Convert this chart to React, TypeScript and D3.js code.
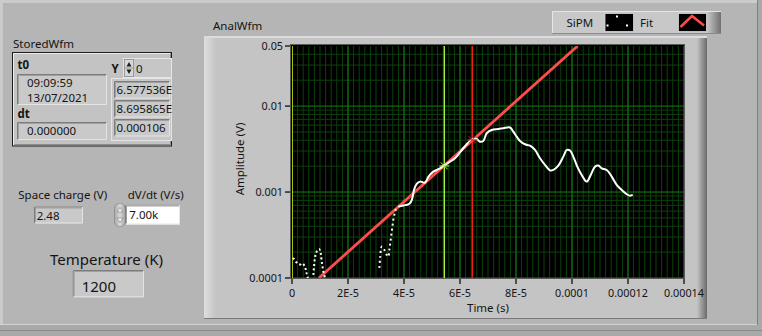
import React from 'react';
import * as d3 from 'd3';

const W = 762;
const H = 336;

// ---- axis ticks ----
const xTickValues = [0, 2e-5, 4e-5, 6e-5, 8e-5, 1e-4, 1.2e-4, 1.4e-4];
const xTickLabels = ['0', '2E-5', '4E-5', '6E-5', '8E-5', '0.0001', '0.00012', '0.00014'];
const yTickValues = [0.05, 0.01, 0.001, 0.0001];
const yTickLabels = ['0.05', '0.01', '0.001', '0.0001'];

// ---- SiPM data (time in µs, amplitude in V) ----
const sipmA_t = [0.36, 0.71, 1.68, 2.32, 3.04, 3.75, 4.46, 4.89, 5.18, 5.46, 5.71];
const sipmA_v = [1.713e-4, 1.654e-4, 1.511e-4, 1.459e-4, 1.439e-4, 1.479e-4, 1.383e-4, 1.266e-4, 1.147e-4, 1.058e-4, 0.977e-4];
const sipmB_t = [7.61, 7.86, 8.32, 9.04, 9.75, 10.25, 10.54, 10.89, 11.32, 11.79];
const sipmB_v = [1.087e-4, 1.347e-4, 1.807e-4, 2.095e-4, 2.163e-4, 1.943e-4, 1.624e-4, 1.358e-4, 1.138e-4, 0.99e-4];
const sipmC_t = [31.2, 31.5, 32.04, 32.86, 33.82, 34.39, 34.75, 35.25, 35.71, 36.18, 36.68, 37.14, 37.96];
const sipmC_v = [1.311e-4, 1.76e-4, 2.319e-4, 2.163e-4, 1.857e-4, 1.774e-4, 2.123e-4, 2.775e-4, 3.627e-4, 4.74e-4, 5.67e-4, 6.313e-4, 6.767e-4];
const sipmD_t = [37.96, 39.75, 41.54, 42.39, 43.11, 43.57, 44.54, 45.71, 47.5, 48.68, 50.46, 52.25, 54.04, 56.43, 58.21, 60.0, 61.18, 62.39, 63.57, 64.75, 65.96, 67.14, 68.32, 69.54, 71.32, 73.68, 75.46, 77.86, 79.04, 80.25, 81.43, 83.21, 85.0, 86.79, 88.57, 90.36, 92.14, 93.32, 95.11, 96.89, 98.11, 99.29, 100.46, 101.89, 103.46, 105.25, 106.68, 108.21, 109.39, 110.61, 112.39, 114.18, 115.96, 117.75, 119.54, 120.71, 121.68];
const sipmD_v = [6.767e-4, 6.987e-4, 7.176e-4, 7.572e-4, 8.844e-4, 1.058e-3, 1.243e-3, 1.322e-3, 1.287e-3, 1.499e-3, 1.727e-3, 1.842e-3, 2.012e-3, 2.258e-3, 2.472e-3, 2.888e-3, 3.232e-3, 3.596e-3, 3.929e-3, 4.145e-3, 4.145e-3, 3.855e-3, 3.929e-3, 4.83e-3, 5.275e-3, 5.419e-3, 5.521e-3, 5.64e-3, 5.04e-3, 4.408e-3, 3.929e-3, 3.596e-3, 3.464e-3, 3.088e-3, 2.472e-3, 2.066e-3, 1.784e-3, 1.807e-3, 2.028e-3, 2.581e-3, 3.088e-3, 3.047e-3, 2.581e-3, 1.975e-3, 1.581e-3, 1.322e-3, 1.581e-3, 1.975e-3, 2.039e-3, 1.891e-3, 1.807e-3, 1.511e-3, 1.21e-3, 1.058e-3, 9.43e-4, 9.08e-4, 9.25e-4];

// ---- exponential fit (end points, µs / V) ----
const fit_t = [9.6, 102.0];
const fit_v = [1e-4, 0.05];

// ---- cursors (µs / V) ----
const cursor_t = [0, 54.4, 64.4];
const cursor_v = [null, 2.012e-3, 4.05e-3];
const cursor_colors = ['#ffff00', '#a8ff40', '#ff1a1a'];

// ---- panel values ----
const t0Lines = ['09:09:59', '13/07/2021'];
const dtValue = '0.000000';
const yIndex = '0';
const yValues = ['6.577536E', '8.695865E', '0.000106'];
const spaceCharge = '2.48';
const dvdt = '7.00k';
const temperature = '1200';

const FONT = "'Noto Sans', 'Open Sans', sans-serif";
const TXT = '#141414';

const PL = 291, PR = 684, PT = 45, PB = 278;

const x = d3.scaleLinear().domain([0, 1.4e-4]).range([292, 684]);
const y = d3.scaleLog().domain([0.0001, 0.05]).range([278, 46]);

function zip(ts: number[], vs: number[]): [number, number][] {
  return ts.map((t, i) => [t * 1e-6, vs[i]]);
}

const line = d3
  .line<[number, number]>()
  .x((d) => x(d[0]))
  .y((d) => y(d[1]))
  .curve(d3.curveCatmullRom.alpha(0.5));

const straight = d3
  .line<[number, number]>()
  .x((d) => x(d[0]))
  .y((d) => y(d[1]));

function InsetBox({ x0, y0, w, h, fill = '#c9c9c9' }: any) {
  return (
    <g>
      <rect x={x0} y={y0} width={w} height={h} fill={fill} />
      <path d={`M${x0 + 0.5},${y0 + h} V${y0 + 0.5} H${x0 + w}`} stroke="#7c7c7c" strokeWidth={1} fill="none" />
      <path d={`M${x0 + 1.5},${y0 + h - 1} V${y0 + 1.5} H${x0 + w - 1}`} stroke="#a0a0a0" strokeWidth={1} fill="none" />
      <path d={`M${x0 + 0.5},${y0 + h - 0.5} H${x0 + w - 0.5} V${y0 + 0.5}`} stroke="#e4e4e4" strokeWidth={1} fill="none" />
    </g>
  );
}

export default function App() {
  const minorX: number[] = d3.range(0, 71).map((i) => i * 2e-6);
  const majorX = xTickValues;
  const minorY: number[] = [];
  [1e-4, 1e-3, 1e-2].forEach((dec) => {
    for (let k = 2; k <= 9; k++) {
      const v = k * dec;
      if (v < 0.05) minorY.push(v);
    }
  });
  const majorY = [1e-4, 1e-3, 1e-2];

  const sA = zip(sipmA_t, sipmA_v);
  const sB = zip(sipmB_t, sipmB_v);
  const sC = zip(sipmC_t, sipmC_v);
  const sD = zip(sipmD_t, sipmD_v);
  const fit = zip(fit_t, fit_v);

  return (
    <svg
      width={W}
      height={H}
      viewBox={`0 0 ${W} ${H}`}
      style={{ position: 'absolute', left: 0, top: 0, fontFamily: FONT }}
    >
      <defs>
        <clipPath id="plotclip">
          <rect x={PL + 1} y={PT + 1} width={PR - PL - 1} height={PB - PT - 1} />
        </clipPath>
        <linearGradient id="rightShade" x1="0" x2="1" y1="0" y2="0">
          <stop offset="0" stopColor="#c4c4c4" />
          <stop offset="1" stopColor="#6a6a6a" />
        </linearGradient>
        <linearGradient id="leftShade" x1="0" x2="1" y1="0" y2="0">
          <stop offset="0" stopColor="#dedede" />
          <stop offset="1" stopColor="#c4c4c4" />
        </linearGradient>
        <linearGradient id="legRight" x1="0" x2="1" y1="0" y2="0">
          <stop offset="0" stopColor="#c8c8c8" />
          <stop offset="1" stopColor="#707070" />
        </linearGradient>
        <linearGradient id="spinGrad" x1="0" x2="1" y1="0" y2="0">
          <stop offset="0" stopColor="#a8a8a8" />
          <stop offset="0.5" stopColor="#dadada" />
          <stop offset="1" stopColor="#a0a0a0" />
        </linearGradient>
      </defs>

      {/* panel background */}
      <rect x={0} y={0} width={W} height={H} fill="#b5b5b5" />
      <rect x={0} y={0} width={W} height={3} fill="#cbcbcb" />
      <rect x={0} y={0} width={3} height={H} fill="#cbcbcb" />
      <rect x={757} y={0} width={5} height={H} fill="#a9a9a9" />
      <line x1={757.5} y1={0} x2={757.5} y2={325} stroke="#808080" />
      <rect x={0} y={325} width={W} height={11} fill="#a9a9a9" />
      <line x1={0} y1={324.5} x2={757} y2={324.5} stroke="#d2d2d2" />
      <line x1={0} y1={330.5} x2={W} y2={330.5} stroke="#8a8a8a" />

      {/* ---------- StoredWfm cluster ---------- */}
      <text x={13} y={48} fontSize={11.5} fill={TXT}>StoredWfm</text>
      <rect x={12.5} y={52.5} width={159} height={93.5} fill="#c3c3c3" stroke="#1e1e1e" strokeWidth={1} />
      <path d="M13.5,145 V53.5 H170.5" stroke="#ececec" fill="none" />
      <path d="M14.5,144.5 H170.5 V53.5" stroke="#8c8c8c" fill="none" />
      <text x={17.5} y={69} fontSize={11.5} fontWeight="bold" fill={TXT}>t0</text>
      <InsetBox x0={17} y0={74} w={90} h={31} />
      <text x={27} y={87} fontSize={11.5} fill={TXT}>{t0Lines[0]}</text>
      <text x={27} y={101.5} fontSize={11.5} fill={TXT}>{t0Lines[1]}</text>
      <text x={17.5} y={118} fontSize={11.5} fontWeight="bold" fill={TXT}>dt</text>
      <InsetBox x0={17} y0={122} w={90} h={18} />
      <text x={27} y={134.5} fontSize={11.5} fill={TXT}>{dtValue}</text>

      <text x={111.5} y={72.5} fontSize={11.5} fontWeight="bold" fill={TXT}>Y</text>
      <rect x={123.5} y={58.5} width={48} height={19} fill="#c6c6c6" stroke="#e6e6e6" />
      <rect x={124.5} y={59.5} width={9} height={17} fill="#d8d8d8" stroke="#8a8a8a" strokeWidth={0.8} />
      <path d="M126.5,66.5 L129,62 L131.5,66.5 Z" fill="#202020" />
      <path d="M126.5,69.5 L129,74 L131.5,69.5 Z" fill="#202020" />
      <line x1={124.5} y1={68} x2={133.5} y2={68} stroke="#8a8a8a" strokeWidth={0.8} />
      <text x={136} y={72.5} fontSize={11.5} fill={TXT}>{yIndex}</text>

      <rect x={111.5} y={78.5} width={60} height={62} fill="#c6c6c6" stroke="#e4e4e4" />
      {yValues.map((v, i) => (
        <g key={v}>
          <InsetBox x0={114} y0={81 + i * 19} w={56} h={17.5} />
          <text x={116.5} y={94 + i * 19} fontSize={11.5} fill={TXT}>{v}</text>
        </g>
      ))}

      {/* ---------- lower controls ---------- */}
      <text x={18.3} y={199} fontSize={11.5} fill={TXT}>Space charge (V)</text>
      <InsetBox x0={34} y0={206.5} w={49} h={17} />
      <text x={36.7} y={220} fontSize={11.5} fill={TXT}>{spaceCharge}</text>

      <text x={127.7} y={199} fontSize={11.5} fill={TXT}>dV/dt (V/s)</text>
      <rect x={114.5} y={203.5} width={11} height={23} rx={5} fill="url(#spinGrad)" stroke="#8c8c8c" strokeWidth={0.8} />
      <path d="M117,212 L120,207.5 L123,212 Z" fill="#f2f2f2" stroke="#777" strokeWidth={0.6} />
      <path d="M117,218 L120,222.5 L123,218 Z" fill="#f2f2f2" stroke="#777" strokeWidth={0.6} />
      <InsetBox x0={125} y0={204.5} w={55} h={20} fill="#ffffff" />
      <text x={129.3} y={219} fontSize={11.5} fill={TXT}>{dvdt}</text>

      <text x={50} y={265} fontSize={15} fill={TXT}>Temperature (K)</text>
      <InsetBox x0={72.7} y0={270} w={71.3} h={27.3} />
      <text x={81.7} y={291.5} fontSize={15} fill={TXT}>{temperature}</text>

      {/* ---------- graph ---------- */}
      <text x={213} y={29.5} fontSize={11.5} fill={TXT}>AnalWfm</text>

      {/* legend */}
      <rect x={552} y={11} width={169} height={22.5} fill="#c8c8c8" />
      <rect x={707} y={11} width={14} height={22.5} fill="url(#legRight)" />
      <path d="M552.5,33.5 V11.5 H721" stroke="#e6e6e6" fill="none" />
      <line x1={552} y1={33.5} x2={721} y2={33.5} stroke="#8a8a8a" />
      <text x={566.5} y={26.5} fontSize={11.5} fill={TXT}>SiPM</text>
      <rect x={605} y={13.5} width={28.5} height={18} fill="#000" stroke="#d8d8d8" strokeWidth={0.8} />
      <rect x={616} y={15.5} width={2} height={2} fill="#fff" />
      <rect x={606.5} y={24.5} width={2} height={2} fill="#fff" />
      <rect x={626} y={24.5} width={2} height={2} fill="#fff" />
      <text x={640} y={26.5} fontSize={11.5} fill={TXT}>Fit</text>
      <rect x={678.5} y={13.5} width={28} height={18} fill="#000" stroke="#d8d8d8" strokeWidth={0.8} />
      <path d="M680.5,27 L692,16 L704,25.5" stroke="#ff4a4a" strokeWidth={2.5} fill="none" />

      {/* graph frame */}
      <rect x={204} y={36} width={503} height={283} fill="#c4c4c4" />
      <rect x={204} y={36} width={12} height={283} fill="url(#leftShade)" />
      <rect x={697} y={36} width={10} height={283} fill="url(#rightShade)" />
      <rect x={204} y={36} width={503} height={2} fill="#dcdcdc" />
      <line x1={204} y1={318.5} x2={707} y2={318.5} stroke="#7a7a7a" />

      {/* plot area */}
      <rect x={PL} y={PT} width={PR - PL} height={PB - PT} fill="#000" />
      <g clipPath="url(#plotclip)">
        {minorX.map((v, i) => (
          <line key={'mx' + i} x1={x(v)} x2={x(v)} y1={PT} y2={PB} stroke="#0b420b" strokeWidth={1} />
        ))}
        {minorY.map((v, i) => (
          <line key={'my' + i} x1={PL} x2={PR} y1={y(v)} y2={y(v)} stroke="#0b420b" strokeWidth={1} />
        ))}
        {majorX.map((v, i) => (
          <line key={'Mx' + i} x1={x(v)} x2={x(v)} y1={PT} y2={PB} stroke="#118011" strokeWidth={1} />
        ))}
        {majorY.map((v, i) => (
          <line key={'My' + i} x1={PL} x2={PR} y1={y(v)} y2={y(v)} stroke="#118011" strokeWidth={1} />
        ))}

        {/* cursors */}
        {cursor_t.map((t, i) => (
          <line key={'c' + i} x1={x(t * 1e-6)} x2={x(t * 1e-6)} y1={PT} y2={PB} stroke={cursor_colors[i]} strokeWidth={1.3} />
        ))}

        {/* fit */}
        <path d={straight(fit) || ''} stroke="#ff4d4d" strokeWidth={2.8} fill="none" />

        {/* SiPM */}
        <path d={line(sA) || ''} stroke="#fff" strokeWidth={2} fill="none" strokeDasharray="2 2.5" />
        <path d={line(sB) || ''} stroke="#fff" strokeWidth={2} fill="none" strokeDasharray="2 2.5" />
        <path d={line(sC) || ''} stroke="#fff" strokeWidth={2} fill="none" strokeDasharray="2 3" />
        <path d={line(sD) || ''} stroke="#fff" strokeWidth={2} fill="none" strokeLinejoin="round" />

        {/* cursor markers */}
        {cursor_t.map((t, i) => {
          const cv = cursor_v[i];
          if (cv == null) return null;
          const cx = x(t * 1e-6);
          const cy = y(cv);
          return (
            <g key={'cm' + i} stroke={cursor_colors[i]} strokeWidth={1}>
              <line x1={cx - 5} x2={cx + 5} y1={cy} y2={cy} />
              <line x1={cx - 3.5} x2={cx + 3.5} y1={cy - 3.5} y2={cy + 3.5} />
              <line x1={cx - 3.5} x2={cx + 3.5} y1={cy + 3.5} y2={cy - 3.5} />
            </g>
          );
        })}
      </g>
      <rect x={PL - 0.5} y={PT - 0.5} width={PR - PL + 1} height={PB - PT + 1} fill="none" stroke="#5a5a5a" />

      {/* y axis */}
      {yTickValues.map((v, i) => (
        <g key={'yt' + i}>
          <line x1={285} x2={290} y1={y(v)} y2={y(v)} stroke="#000" strokeWidth={1.2} />
          <text x={283} y={y(v) + 4} fontSize={10.8} textAnchor="end" fill={TXT}>{yTickLabels[i]}</text>
        </g>
      ))}
      <text
        x={0}
        y={0}
        fontSize={11.5}
        fill={TXT}
        textAnchor="middle"
        transform="translate(244,159) rotate(-90)"
      >
        Amplitude (V)
      </text>

      {/* x axis */}
      {xTickValues.map((v, i) => (
        <g key={'xt' + i}>
          <line x1={x(v)} x2={x(v)} y1={279} y2={284} stroke="#000" strokeWidth={1.2} />
          <text x={x(v)} y={297} fontSize={10.8} textAnchor="middle" fill={TXT}>{xTickLabels[i]}</text>
        </g>
      ))}
      <text x={488} y={312} fontSize={11.5} textAnchor="middle" fill={TXT}>Time (s)</text>
    </svg>
  );
}
